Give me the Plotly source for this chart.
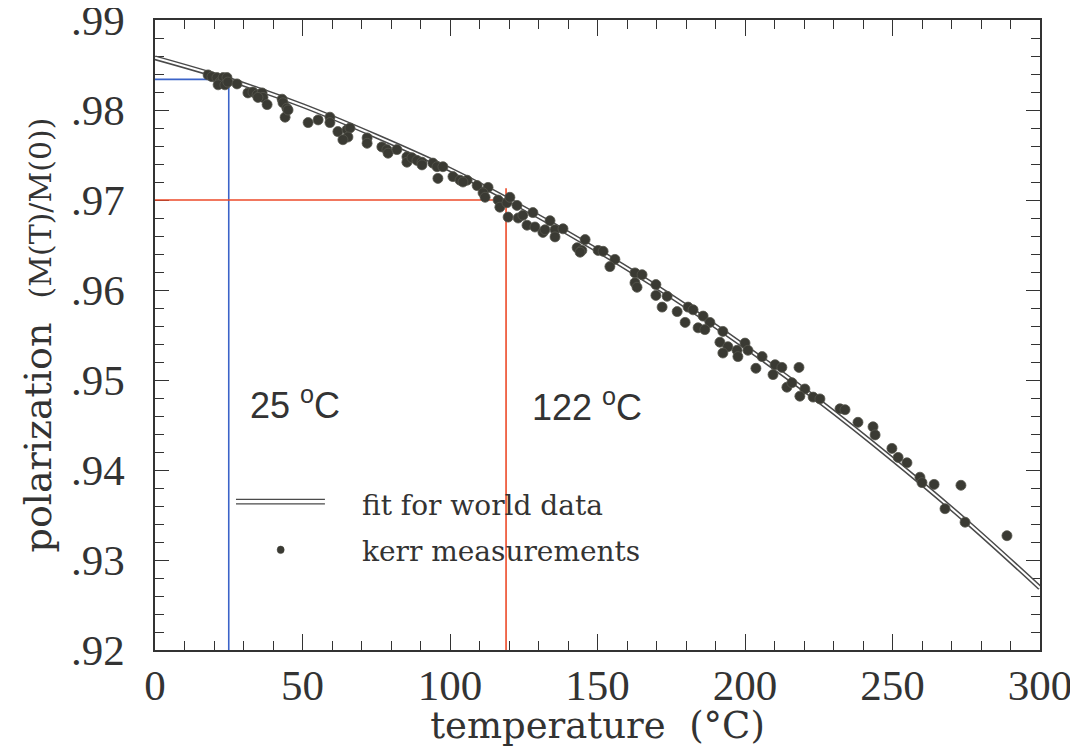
import plotly.graph_objects as go

# ---- data ----
kerr_temp = [18.0, 19.3, 21.0, 22.0, 23.1, 24.4, 21.4, 23.7, 24.7, 27.8,
             31.5, 33.2, 34.6, 36.3, 36.6, 34.9, 38.0, 43.1, 43.4, 44.7,
             44.1, 45.1, 51.9, 55.3, 59.3, 59.3, 62.0, 65.1, 66.1, 65.4,
             63.7, 71.9, 71.9, 76.9, 78.6, 79.0, 82.0, 85.4, 85.4, 87.1,
             88.8, 90.5, 90.5, 94.2, 95.6, 97.6, 95.9, 101.0, 103.4, 105.8,
             104.4, 109.2, 112.9, 111.2, 111.9, 116.3, 116.9, 119.3, 120.3, 122.7,
             119.7, 123.1, 124.7, 128.1, 126.1, 128.8, 131.5, 132.2, 133.9, 135.6,
             138.3, 135.6, 145.8, 143.1, 144.7, 144.1, 150.2, 151.9, 155.9, 154.2,
             162.7, 165.1, 162.7, 163.4, 169.8, 169.8, 173.6, 171.9, 177.0, 179.7,
             180.7, 182.4, 185.8, 188.1, 184.1, 186.4, 192.5, 191.5, 194.2, 192.5,
             197.3, 197.6, 200.0, 201.0, 205.8, 203.7, 210.2, 212.5, 209.5, 218.3,
             214.2, 215.9, 220.3, 218.6, 223.1, 225.4, 232.2, 233.9, 238.3, 243.4,
             244.1, 249.8, 251.9, 254.9, 259.3, 260.0, 264.1, 273.2, 267.8, 274.6,
             288.8]
kerr_pol = [0.9839, 0.9837, 0.9836, 0.9831, 0.9836, 0.9836, 0.9828, 0.9828, 0.9831, 0.9829,
            0.9819, 0.9820, 0.9817, 0.9819, 0.9814, 0.9814, 0.9806, 0.9812, 0.9808, 0.9802,
            0.9792, 0.9800, 0.9786, 0.9789, 0.9792, 0.9786, 0.9776, 0.9778, 0.9780, 0.9770,
            0.9767, 0.9769, 0.9763, 0.9759, 0.9756, 0.9752, 0.9756, 0.9748, 0.9742, 0.9747,
            0.9744, 0.9742, 0.9739, 0.9741, 0.9737, 0.9737, 0.9724, 0.9726, 0.9722, 0.9722,
            0.9720, 0.9716, 0.9714, 0.9708, 0.9703, 0.9700, 0.9692, 0.9697, 0.9703, 0.9694,
            0.9681, 0.9680, 0.9683, 0.9686, 0.9672, 0.9670, 0.9664, 0.9667, 0.9677, 0.9667,
            0.9668, 0.9659, 0.9656, 0.9647, 0.9644, 0.9642, 0.9644, 0.9643, 0.9634, 0.9626,
            0.9619, 0.9617, 0.9608, 0.9603, 0.9606, 0.9594, 0.9593, 0.9581, 0.9576, 0.9564,
            0.9581, 0.9578, 0.9571, 0.9564, 0.9558, 0.9556, 0.9554, 0.9542, 0.9537, 0.9530,
            0.9533, 0.9526, 0.9541, 0.9533, 0.9526, 0.9513, 0.9517, 0.9514, 0.9506, 0.9514,
            0.9492, 0.9497, 0.9490, 0.9482, 0.9481, 0.9479, 0.9468, 0.9467, 0.9453, 0.9448,
            0.9439, 0.9424, 0.9414, 0.9408, 0.9392, 0.9386, 0.9384, 0.9383, 0.9357, 0.9342,
            0.9327]

fit_temp = [0, 25, 50, 75, 100, 125, 150, 175, 200, 225, 250, 275, 300]
fit_pol = [0.9858, 0.9834, 0.9805, 0.9771, 0.9734, 0.9691, 0.9644, 0.9593,
           0.9537, 0.9477, 0.9412, 0.9343, 0.9269]

ref_temp = [25, 119]          # marked temperatures (vertical lines)
ref_pol = [0.9834, 0.9700]    # polarization read at those temperatures
ref_top = [0.9834, 0.9713]    # top end of the vertical markers
ref_text = ["25 <sup>o</sup>C", "122 <sup>o</sup>C"]
ref_color = ["#3b63c8", "#ec4a28"]

y_ticks = [0.92, 0.93, 0.94, 0.95, 0.96, 0.97, 0.98, 0.99]
y_labels = [".92", ".93", ".94", ".95", ".96", ".97", ".98", ".99"]
x_ticks = [0, 50, 100, 150, 200, 250, 300]
x_labels = ["0", "50", "100", "150", "200", "250", "300"]

Y_MIN, Y_MAX = 0.92, 0.99
X_MIN, X_MAX = 0, 300

INK = "#333333"
fig = go.Figure()

# reference (marker) lines
for t, p, top, c in zip(ref_temp, ref_pol, ref_top, ref_color):
    fig.add_trace(go.Scatter(x=[X_MIN, t], y=[p, p], mode="lines",
                             line=dict(color=c, width=1.6), showlegend=False,
                             hoverinfo="skip"))
    fig.add_trace(go.Scatter(x=[t, t], y=[top, Y_MIN], mode="lines",
                             line=dict(color=c, width=1.6), showlegend=False,
                             hoverinfo="skip"))

# fit for world data (double line)
fig.add_trace(go.Scatter(x=fit_temp, y=fit_pol, mode="lines", line_shape="spline",
                         line=dict(color="#4a4a4a", width=5), showlegend=False))
fig.add_trace(go.Scatter(x=fit_temp, y=fit_pol, mode="lines", line_shape="spline",
                         line=dict(color="white", width=2), showlegend=False,
                         hoverinfo="skip"))

# kerr measurements
fig.add_trace(go.Scatter(x=kerr_temp, y=kerr_pol, mode="markers",
                         marker=dict(size=10, color="#3a3a33",
                                     line=dict(color="#55554c", width=0.8)),
                         showlegend=False))

annotations = [
    dict(x=0.105, y=0.392, xref="paper", yref="paper", text=ref_text[0],
         showarrow=False, xanchor="left", yanchor="middle",
         font=dict(family="Liberation Sans", size=36, color=INK)),
    dict(x=0.424, y=0.389, xref="paper", yref="paper", text=ref_text[1],
         showarrow=False, xanchor="left", yanchor="middle",
         font=dict(family="Liberation Sans", size=36, color=INK)),
    # manual legend
    dict(x=0.232, y=0.230, xref="paper", yref="paper", text="fit for world data",
         showarrow=False, xanchor="left", yanchor="middle",
         font=dict(family="DejaVu Serif", size=28, color=INK)),
    dict(x=0.232, y=0.156, xref="paper", yref="paper", text="kerr measurements",
         showarrow=False, xanchor="left", yanchor="middle",
         font=dict(family="DejaVu Serif", size=28, color=INK)),
]

shapes = [
    dict(type="line", xref="paper", yref="paper", x0=0.0915, x1=0.192, y0=0.239, y1=0.239,
         line=dict(color="#4a4a4a", width=1.3)),
    dict(type="line", xref="paper", yref="paper", x0=0.0915, x1=0.192, y0=0.232, y1=0.232,
         line=dict(color="#4a4a4a", width=1.3)),
    dict(type="circle", xref="paper", yref="paper", x0=0.138, x1=0.146, y0=0.153, y1=0.165,
         fillcolor="#3a3a33", line=dict(color="#3a3a33", width=0.5)),
]

axis_common = dict(showline=True, linecolor=INK, linewidth=1.5, mirror="allticks",
                   ticks="inside", tickcolor=INK, tickwidth=1.3, showgrid=False,
                   zeroline=False, automargin=False, ticklabeloverflow="allow",
                   layer="below traces",
                   tickfont=dict(family="Liberation Serif", size=43, color=INK))

fig.update_layout(
    width=1070, height=739,
    margin=dict(l=147, r=38, t=12, b=97),
    paper_bgcolor="white", plot_bgcolor="white",
    showlegend=False,
    xaxis=dict(range=[X_MIN, X_MAX], tickvals=x_ticks, ticktext=x_labels, ticklen=16,
               minor=dict(dtick=10, tick0=0, ticks="inside", ticklen=9, tickcolor=INK,
                          tickwidth=1.1),
               title=dict(text="temperature  (°C)", standoff=0,
                          font=dict(family="DejaVu Serif", size=37, color=INK)),
               ticklabelstandoff=-3,
               **axis_common),
    yaxis=dict(range=[Y_MIN, Y_MAX], tickvals=y_ticks, ticktext=y_labels, ticklen=14,
               minor=dict(dtick=0.002, tick0=0.92, ticks="inside", ticklen=9,
                          tickcolor=INK, tickwidth=1.1),
               title=dict(text="polarization  <span style='font-size:30px'>(M(T)/M(0))</span>",
                          standoff=8,
                          font=dict(family="DejaVu Serif", size=38, color=INK)),
               ticklabelstandoff=20,
               **axis_common),
    annotations=annotations,
    shapes=shapes,
)

fig.write_html("out.html")
